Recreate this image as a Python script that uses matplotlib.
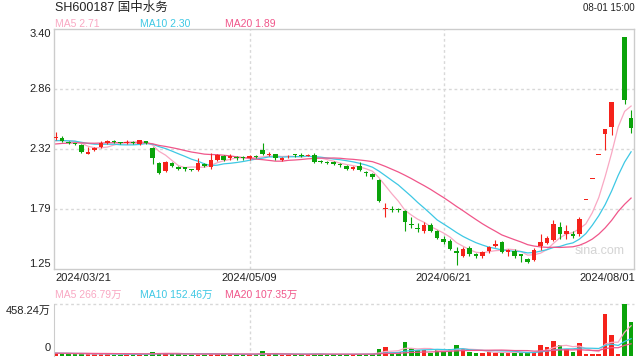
import matplotlib
matplotlib.use('Agg')
import matplotlib.pyplot as plt
import matplotlib.transforms as mtransforms
import numpy as np
import pandas as pd

plt.rcParams['font.family'] = ['Liberation Sans', 'Noto Sans CJK SC', 'DejaVu Sans']

title = 'SH600187 国中水务'
stamp = '08-01 15:00'
date_labels = ['2024/03/21', '2024/05/09', '2024/06/21', '2024/08/01']
date_idx = [0, 30, 60, 89]
price_ticks = [3.40, 2.8625, 2.325, 1.7875, 1.25]
price_tick_labels = ['3.40', '2.86', '2.32', '1.79', '1.25']
ma_price_text = ['MA5 2.71', 'MA10 2.30', 'MA20 1.89']
ma_vol_text = ['MA5 266.79万', 'MA10 152.46万', 'MA20 107.35万']
vol_tick_labels = ['458.24万', '0']
vol_max = 458.24

# daily candles 2024/03/21 .. 2024/08/01
opens = [2.42, 2.42, 2.39, 2.38, 2.36, 2.28, 2.32, 2.34, 2.38, 2.40,
         2.39, 2.38, 2.39, 2.37, 2.40, 2.33, 2.20, 2.13, 2.20, 2.16,
         2.16, 2.15, 2.14, 2.19, 2.16, 2.23, 2.26, 2.24, 2.25, 2.25,
         2.24, 2.26, 2.32, 2.27, 2.28, 2.23, 2.26, 2.28, 2.27, 2.26,
         2.27, 2.22, 2.21, 2.21, 2.19, 2.17, 2.15, 2.17, 2.12, 2.10,
         2.05, 1.79, 1.79, 1.79, 1.77, 1.65, 1.62, 1.59, 1.64, 1.59,
         1.52, 1.50, 1.41, 1.37, 1.44, 1.38, 1.37, 1.41, 1.46, 1.49,
         1.40, 1.41, 1.38, 1.34, 1.33, 1.46, 1.48, 1.51, 1.63, 1.56,
         1.56, 1.56, 1.87, 2.06, 2.27, 2.46, 2.52, 3.03, 3.33, 2.60]
highs = [2.48, 2.44, 2.40, 2.38, 2.37, 2.34, 2.34, 2.40, 2.41, 2.41,
         2.39, 2.41, 2.40, 2.41, 2.40, 2.34, 2.21, 2.22, 2.21, 2.17,
         2.16, 2.15, 2.24, 2.20, 2.29, 2.28, 2.27, 2.28, 2.26, 2.26,
         2.27, 2.27, 2.38, 2.30, 2.28, 2.25, 2.27, 2.28, 2.29, 2.28,
         2.29, 2.23, 2.22, 2.22, 2.20, 2.18, 2.17, 2.21, 2.13, 2.11,
         2.06, 1.84, 1.81, 1.80, 1.78, 1.72, 1.66, 1.67, 1.66, 1.60,
         1.55, 1.52, 1.45, 1.45, 1.46, 1.39, 1.41, 1.46, 1.51, 1.50,
         1.43, 1.43, 1.38, 1.35, 1.44, 1.56, 1.55, 1.69, 1.67, 1.64,
         1.59, 1.72, 1.87, 2.06, 2.27, 2.50, 2.75, 3.03, 3.33, 2.67]
lows = [2.41, 2.39, 2.37, 2.36, 2.29, 2.28, 2.31, 2.33, 2.37, 2.38,
        2.37, 2.37, 2.37, 2.36, 2.37, 2.19, 2.10, 2.12, 2.16, 2.14,
        2.13, 2.13, 2.13, 2.16, 2.15, 2.22, 2.22, 2.23, 2.23, 2.23,
        2.23, 2.24, 2.27, 2.26, 2.23, 2.22, 2.24, 2.25, 2.25, 2.26,
        2.20, 2.20, 2.19, 2.18, 2.16, 2.14, 2.14, 2.13, 2.08, 2.06,
        1.85, 1.72, 1.76, 1.76, 1.59, 1.62, 1.58, 1.57, 1.58, 1.52,
        1.47, 1.42, 1.29, 1.36, 1.37, 1.35, 1.35, 1.39, 1.45, 1.39,
        1.37, 1.35, 1.31, 1.30, 1.32, 1.42, 1.47, 1.50, 1.52, 1.52,
        1.53, 1.55, 1.87, 2.06, 2.27, 2.32, 2.45, 3.03, 2.73, 2.47]
closes = [2.43, 2.40, 2.38, 2.37, 2.30, 2.30, 2.33, 2.38, 2.40, 2.39,
          2.38, 2.39, 2.38, 2.41, 2.38, 2.24, 2.11, 2.21, 2.17, 2.15,
          2.15, 2.14, 2.20, 2.17, 2.23, 2.27, 2.23, 2.26, 2.24, 2.24,
          2.26, 2.25, 2.28, 2.28, 2.24, 2.24, 2.26, 2.27, 2.26, 2.27,
          2.21, 2.21, 2.20, 2.19, 2.18, 2.15, 2.16, 2.14, 2.11, 2.07,
          1.86, 1.80, 1.78, 1.78, 1.67, 1.64, 1.61, 1.64, 1.59, 1.53,
          1.49, 1.43, 1.39, 1.43, 1.38, 1.37, 1.40, 1.45, 1.47, 1.40,
          1.42, 1.37, 1.37, 1.31, 1.42, 1.49, 1.53, 1.65, 1.56, 1.59,
          1.55, 1.70, 1.87, 2.06, 2.27, 2.50, 2.75, 3.03, 2.76, 2.51]
# volume in 万
volumes = [25, 20, 18, 15, 24, 16, 14, 20, 18, 13,
           12, 15, 14, 18, 15, 36, 30, 24, 18, 14,
           12, 12, 20, 14, 22, 20, 15, 14, 12, 12,
           14, 12, 45, 20, 16, 12, 12, 14, 13, 12,
           22, 15, 14, 15, 13, 18, 14, 18, 16, 20,
           66, 81, 30, 35, 126, 69, 51, 51, 30, 51,
           45, 60, 99, 60, 35, 30, 30, 35, 30, 30,
           30, 35, 30, 25, 35, 95, 80, 135, 100, 60,
           35, 111, 15, 15, 15, 368, 189, 20, 458.24, 298]
# days before the window, only used for the moving averages
prior_closes = [2.30, 2.32, 2.31, 2.33, 2.34, 2.35, 2.34, 2.36, 2.37, 2.38,
                2.39, 2.41, 2.40, 2.40, 2.40, 2.40, 2.39, 2.39, 2.39]
prior_volumes = [22, 25, 28, 20, 24, 26, 30, 22, 25, 27,
                 24, 21, 26, 28, 23, 25, 22, 24, 26]

RED = '#f5221b'
GREEN = '#0aa30a'
MA_COLORS = ['#f9a8c3', '#3ec8e4', '#f0568a']
GRID = '#d8d8d8'
FRAME = '#cccccc'

n = len(closes)
x = np.arange(n)
o = np.array(opens)
h = np.array(highs)
l = np.array(lows)
c = np.array(closes)
up = c >= o
colors = [RED if u else GREEN for u in up]

cs = pd.Series(prior_closes + closes)
vs = pd.Series(prior_volumes + volumes)
k0 = len(prior_closes)

fig = plt.figure(figsize=(6.4, 3.6), dpi=100)
ax = fig.add_axes([54 / 640, 1 - 269 / 360, 580 / 640, 240 / 360])
axv = fig.add_axes([54 / 640, 1 - 356 / 360, 580 / 640, 52 / 360])
xlim = (-0.25, 89.45)

# price panel
for yv in price_ticks[1:-1]:
    ax.axhline(yv, color=GRID, lw=1, ls=(0, (2, 2)), zorder=0)
for xi in date_idx[1:3]:
    ax.axvline(xi, color=GRID, lw=1, ls=(0, (2, 2)), zorder=0)
    axv.axvline(xi, color=GRID, lw=1, ls=(0, (2, 2)), zorder=0)

ax.text(0.94, 0.075, 'sina.com', transform=ax.transAxes, ha='center', va='center',
        fontsize=9, color='#d4d4d4', zorder=1)

for i, w in enumerate([5, 10, 20]):
    ma = cs.rolling(w).mean().values[k0:]
    ax.plot(x, ma, color=MA_COLORS[i], lw=0.9, zorder=2)

ax.vlines(x, l, h, colors=colors, lw=0.8, zorder=3)
body = np.maximum(np.abs(c - o), 0.006)
ax.bar(x, body, bottom=np.minimum(o, c), width=0.7, color=colors, zorder=4)

ax.set_xlim(*xlim)
ax.set_ylim(1.25, 3.40)
ax.set_xticks([])
ax.set_yticks([])
for s in ax.spines.values():
    s.set_color(FRAME)
    s.set_linewidth(1)

tr = mtransforms.blended_transform_factory(fig.transFigure, ax.transData)
for i, (yv, lab) in enumerate(zip(price_ticks, price_tick_labels)):
    va = 'top' if i == 0 else ('bottom' if i == len(price_ticks) - 1 else 'center')
    ax.text(51 / 640, yv, lab, transform=tr, ha='right', va=va, fontsize=8, color='#222222')

trx = mtransforms.blended_transform_factory(ax.transData, fig.transFigure)
for i, (xi, lab) in enumerate(zip(date_idx, date_labels)):
    if i == 0:
        fig.text(55 / 640, 1 - 278 / 360, lab, ha='left', va='center', fontsize=8, color='#222222')
    elif i == len(date_idx) - 1:
        fig.text(635 / 640, 1 - 278 / 360, lab, ha='right', va='center', fontsize=8, color='#222222')
    else:
        ax.text(xi, 1 - 278 / 360, lab, transform=trx, ha='center', va='center', fontsize=8, color='#222222')

# volume panel
for i, w in enumerate([5, 10, 20]):
    ma = vs.rolling(w).mean().values[k0:]
    axv.plot(x, ma, color=MA_COLORS[i], lw=0.9, zorder=3)
axv.bar(x, volumes, width=0.7, color=colors, zorder=2)
axv.axhline(vol_max, color=GRID, lw=1, ls=(0, (2, 2)), zorder=0, clip_on=False)
axv.set_xlim(*xlim)
axv.set_ylim(0, vol_max)
axv.set_xticks([])
axv.set_yticks([])
for side in ['top', 'right', 'bottom']:
    axv.spines[side].set_visible(False)
axv.spines['left'].set_color(FRAME)

fig.text(51 / 640, 1 - 311 / 360, vol_tick_labels[0], ha='right', va='center', fontsize=8, color='#222222')
fig.text(51 / 640, 1 - 348 / 360, vol_tick_labels[1], ha='right', va='center', fontsize=8, color='#222222')

# headers
fig.text(55 / 640, 1 - 8 / 360, title, ha='left', va='center', fontsize=9, color='#222222')
fig.text(635 / 640, 1 - 8 / 360, stamp, ha='right', va='center', fontsize=7, color='#222222')
leg_x = [55, 140, 225]
for i in range(3):
    fig.text(leg_x[i] / 640, 1 - 24 / 360, ma_price_text[i], ha='left', va='center',
             fontsize=7.5, color=MA_COLORS[i])
    fig.text(leg_x[i] / 640, 1 - 295 / 360, ma_vol_text[i], ha='left', va='center',
             fontsize=7.5, color=MA_COLORS[i])

fig.savefig('out.png', dpi=100)
